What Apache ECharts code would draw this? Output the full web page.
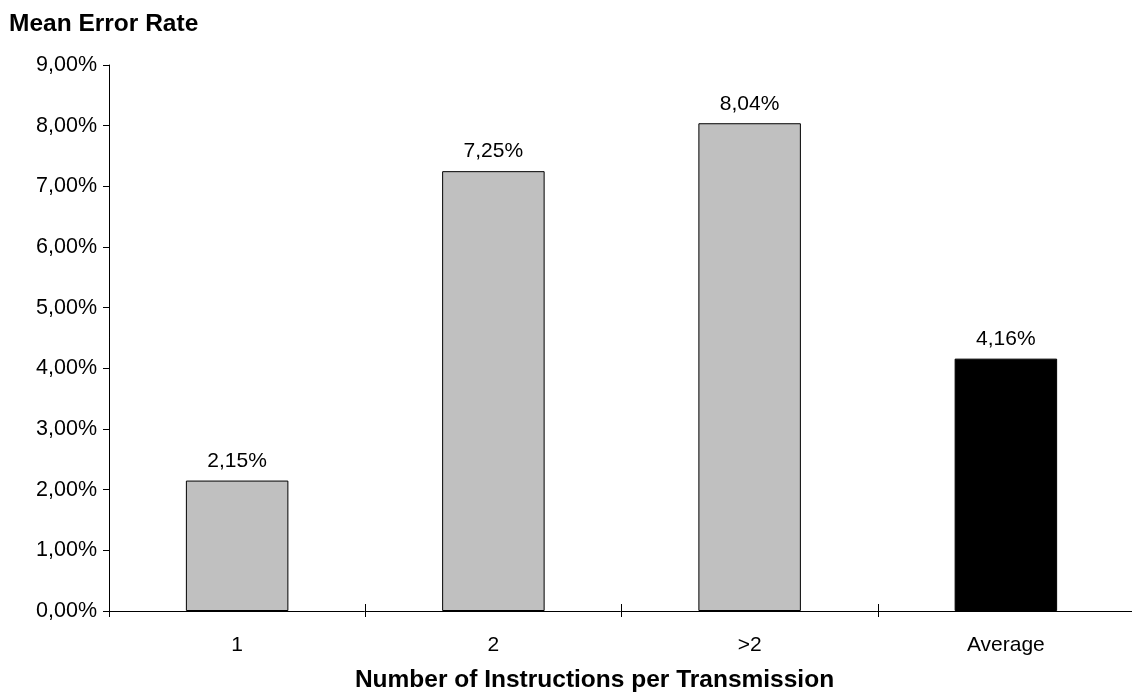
<!DOCTYPE html>
<html>
<head>
<meta charset="utf-8">
<script src="https://cdn.jsdelivr.net/npm/echarts@6/dist/echarts.min.js"></script>
<style>
  html, body { margin: 0; padding: 0; background: #fff; }
  #chart { width: 1132px; height: 695px; }
</style>
</head>
<body>
<div id="chart"></div>
<script>
// Mean error rate by number of instructions per transmission
const categories = ['1', '2', '>2', 'Average'];
const errorRates = [2.15, 7.25, 8.04, 4.16];
const barColors = ['#c0c0c0', '#c0c0c0', '#c0c0c0', '#000000'];
const yTicks = [0, 1, 2, 3, 4, 5, 6, 7, 8, 9];

const FONT = '"Liberation Sans", Arial, Helvetica, sans-serif';
const pct = v => v.toFixed(2).replace('.', ',') + '%';

const chart = echarts.init(document.getElementById('chart'), null, { renderer: 'canvas' });

chart.setOption({
  animation: false,
  backgroundColor: '#ffffff',
  textStyle: { fontFamily: FONT },
  title: {
    text: 'Mean Error Rate',
    left: 4,
    top: 7,
    textStyle: { fontFamily: FONT, fontSize: 24.5, fontWeight: 'bold', color: '#000' }
  },
  grid: {
    left: 109, top: 65, width: 1025, height: 546,
    containLabel: false,
    outerBoundsMode: 'none'
  },
  xAxis: [
    {
      type: 'category',
      data: categories,
      position: 'bottom',
      axisLine: { show: true, lineStyle: { color: '#000', width: 1 } },
      axisTick: { show: true, inside: false, length: 6, lineStyle: { color: '#000' } },
      axisLabel: { color: '#000', fontSize: 21, fontFamily: FONT, margin: 24 },
      name: 'Number of Instructions per Transmission',
      nameLocation: 'middle',
      nameGap: 57,
      nameTextStyle: {
        color: '#000', fontSize: 24.5, fontWeight: 'bold', fontFamily: FONT,
        padding: [0, 54, 0, 0]
      }
    },
    {
      // inner half of the category ticks, so they cross the axis line
      type: 'category',
      data: categories,
      position: 'bottom',
      axisLine: { show: false },
      axisTick: { show: true, inside: true, length: 7, lineStyle: { color: '#000' } },
      axisLabel: { show: false }
    }
  ],
  yAxis: {
    type: 'value',
    min: yTicks[0],
    max: yTicks[yTicks.length - 1],
    interval: 1,
    splitLine: { show: false },
    axisLine: { show: true, lineStyle: { color: '#000', width: 1 } },
    axisTick: { show: true, inside: false, length: 6, lineStyle: { color: '#000' } },
    axisLabel: { color: '#000', fontSize: 21.5, fontFamily: FONT, margin: 12, formatter: v => pct(v) }
  },
  series: [{
    type: 'bar',
    xAxisIndex: 0,
    barWidth: '40%',
    data: errorRates.map((v, i) => ({
      value: v,
      itemStyle: { color: barColors[i], borderColor: '#000', borderWidth: 1 }
    })),
    label: {
      show: true,
      position: 'top',
      distance: 9,
      color: '#000',
      fontSize: 21,
      fontFamily: FONT,
      formatter: p => pct(p.value)
    }
  }]
});
</script>
</body>
</html>
